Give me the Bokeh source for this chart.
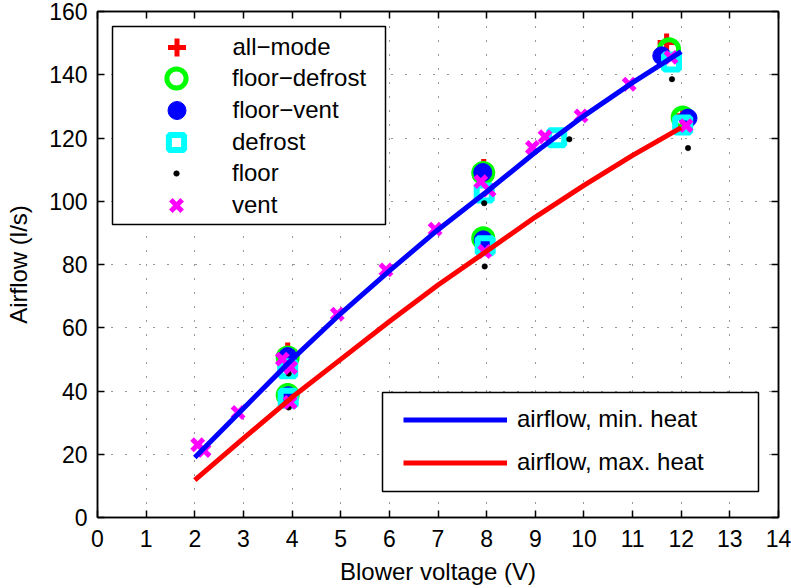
from bokeh.plotting import figure
from bokeh.models import Range1d, LinearAxis, FixedTicker, Legend, LegendItem, BoxAnnotation
from bokeh.embed import file_html
from bokeh.resources import INLINE

# ---------------- data ----------------
volts = [2, 3, 4, 5, 6, 7, 8, 9, 10, 11, 12]
airflow_min_heat = [19.0, 34.5, 50.0, 64.5, 78.0, 91.0, 103.0, 115.5, 127.0, 137.5, 147.3]
airflow_max_heat = [11.8, 25.0, 38.0, 50.0, 62.0, 73.5, 84.2, 95.0, 105.0, 114.5, 123.3]

all_mode_v = [3.91, 3.91, 7.94, 7.94, 11.70, 12.03]
all_mode_q = [52.5, 39.5, 110.5, 88.5, 150.2, 127.0]

floor_defrost_v = [3.91, 3.91, 7.93, 7.93, 11.75, 12.03]
floor_defrost_q = [50.6, 38.7, 108.9, 88.3, 148.1, 126.5]

floor_vent_v = [3.91, 3.92, 7.92, 7.93, 11.60, 12.14]
floor_vent_q = [50.9, 38.5, 109.1, 87.8, 146.0, 126.3]

defrost_v = [3.91, 3.92, 7.95, 7.97, 9.44, 11.80, 12.03]
defrost_q = [47.0, 37.7, 102.6, 85.9, 120.1, 144.0, 124.1]

floor_v = [3.93, 3.93, 7.95, 7.96, 9.70, 11.81, 12.14]
floor_q = [45.5, 34.8, 99.4, 79.4, 119.6, 138.6, 116.8]

vent_v = [2.06, 2.19, 2.89, 3.80, 3.97, 3.96, 4.93, 5.93, 6.94, 7.88, 8.05, 7.96,
          8.94, 9.20, 9.94, 10.93, 11.79, 12.10]
vent_q = [23.0, 21.2, 33.2, 50.1, 47.4, 36.4, 64.3, 78.3, 91.2, 106.2, 103.5, 84.1,
          117.0, 120.4, 127.0, 137.0, 145.5, 123.9]

x_ticks = list(range(0, 15))
y_ticks = list(range(0, 161, 20))

marker_labels = ["all\u2212mode", "floor\u2212defrost", "floor\u2212vent", "defrost", "floor", "vent"]
line_labels = ["airflow, min. heat", "airflow, max. heat"]
x_label = "Blower voltage (V)"
y_label = "Airflow (l/s)"

# ---------------- layout ----------------
FONT = "Liberation Sans"
W, H = 791, 588
BL, BR, BT, BB = 97, 13, 11, 71
FRAME_L = BL
FRAME_B = H - BB

p = figure(width=W, height=H, x_range=Range1d(0, 14), y_range=Range1d(0, 160),
           output_backend="svg", toolbar_location=None,
           min_border_left=BL, min_border_right=BR, min_border_top=BT, min_border_bottom=BB)
p.background_fill_color = "white"
p.border_fill_color = "white"
p.outline_line_color = "black"
p.outline_line_width = 1.5

# glyphs
r_all = p.scatter(all_mode_v, all_mode_q, marker="cross", size=18,
                  line_color="#ff0000", line_width=5)
r_fd = p.scatter(floor_defrost_v, floor_defrost_q, marker="circle", size=19,
                 fill_color=None, line_color="#00ff00", line_width=5)
r_fv = p.scatter(floor_vent_v, floor_vent_q, marker="circle", size=18,
                 fill_color="#0000ff", line_color="#0000ff", line_width=1)
r_def = p.scatter(defrost_v, defrost_q, marker="square", size=15,
                  fill_color=None, line_color="#00ffff", line_width=6)
r_floor = p.scatter(floor_v, floor_q, marker="circle", size=5.5,
                    fill_color="black", line_color="black", line_width=0.5)
r_vent = p.scatter(vent_v, vent_q, marker="x", size=16,
                   line_color="#ff00ff", line_width=5)
r_min = p.line(volts, airflow_min_heat, line_color="#0000ff", line_width=5)
r_max = p.line(volts, airflow_max_heat, line_color="#ff0000", line_width=5)

# axes
for ax in (p.xaxis[0], p.yaxis[0]):
    ax.major_label_text_font = FONT
    ax.major_label_text_font_size = "23px"
    ax.major_label_text_color = "black"
    ax.axis_label_text_font = FONT
    ax.axis_label_text_font_size = "24px"
    ax.axis_label_text_font_style = "normal"
    ax.axis_label_text_color = "black"
    ax.major_tick_in = 7
    ax.major_tick_out = 0
    ax.minor_tick_line_color = None
    ax.axis_line_width = 1.5
    ax.major_tick_line_width = 1.5
    ax.axis_line_color = "black"
    ax.major_tick_line_color = "black"
p.xaxis[0].ticker = FixedTicker(ticks=x_ticks)
p.yaxis[0].ticker = FixedTicker(ticks=y_ticks)
p.xaxis[0].axis_label = x_label
p.yaxis[0].axis_label = y_label
p.xaxis[0].major_label_standoff = 12
p.yaxis[0].major_label_standoff = 10
p.xaxis[0].axis_label_standoff = 8
p.yaxis[0].axis_label_standoff = 14

# tick-only axes on top and right (box with inward ticks, no labels drawn)
for ticks, loc in ((x_ticks, "above"), (y_ticks, "right")):
    ax = LinearAxis(ticker=FixedTicker(ticks=ticks), major_label_text_font_size="0px",
                    major_label_text_color=None, major_label_text_alpha=0,
                    major_label_standoff=0, major_tick_in=7, major_tick_out=0,
                    minor_tick_line_color=None, axis_line_width=1.5, major_tick_line_width=1.5)
    p.add_layout(ax, loc)

for g, t in ((p.xgrid[0], x_ticks), (p.ygrid[0], y_ticks)):
    g.ticker = FixedTicker(ticks=t)
    g.grid_line_color = "black"
    g.grid_line_dash = "1 13"
    g.grid_line_width = 1
    g.grid_line_alpha = 0.8

# legend frames
box1 = BoxAnnotation(left=112, right=385, top=26, bottom=224,
                     left_units="canvas", right_units="canvas", top_units="canvas", bottom_units="canvas",
                     fill_color="white", fill_alpha=1, line_color="black", line_width=1.5, line_alpha=1)
box2 = BoxAnnotation(left=382, right=758, top=392, bottom=491,
                     left_units="canvas", right_units="canvas", top_units="canvas", bottom_units="canvas",
                     fill_color="white", fill_alpha=1, line_color="black", line_width=1.5, line_alpha=1)
p.add_layout(box1)
p.add_layout(box2)

# marker legend: one item per legend so each sample keeps its own size
row_centers = [46.7, 78.3, 110.0, 141.7, 173.3, 205.0]
sample_sizes = [18, 19, 18, 15, 5.5, 16]
for lab, rend, s, cy in zip(marker_labels, [r_all, r_fd, r_fv, r_def, r_floor, r_vent], sample_sizes, row_centers):
    gw = int(round(s / 0.4))
    leg = Legend(items=[LegendItem(label=lab, renderers=[rend])],
                 location=(176 - gw / 2 - FRAME_L, FRAME_B - (cy + 30)),
                 glyph_width=gw, glyph_height=60, label_height=60,
                 label_standoff=int(round(56 - gw / 2)), padding=0, margin=0, spacing=0,
                 border_line_color=None, background_fill_alpha=0,
                 label_text_font=FONT, label_text_font_size="24px", label_text_color="black")
    p.add_layout(leg)

leg2 = Legend(items=[LegendItem(label=line_labels[0], renderers=[r_min]),
                     LegendItem(label=line_labels[1], renderers=[r_max])],
              location=(403 - FRAME_L, FRAME_B - 483.5),
              glyph_width=104, glyph_height=43, label_height=43, label_standoff=10,
              padding=0, margin=0, spacing=0,
              border_line_color=None, background_fill_alpha=0,
              label_text_font=FONT, label_text_font_size="24px", label_text_color="black")
p.add_layout(leg2)

open("out.html", "w").write(file_html(p, INLINE))
